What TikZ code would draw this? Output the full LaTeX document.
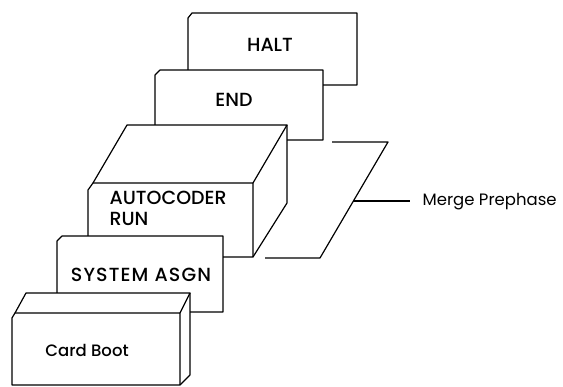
\documentclass[tikz,border=0pt]{standalone}
\usepackage{fontspec}
\setmainfont{Poppins}
\newfontfamily\medfont{Poppins Medium}
\newfontfamily\widefont{Poppins Medium}[LetterSpace=6]
\begin{document}
\begin{tikzpicture}[x=1pt,y=-1pt, line width=1.2pt, line join=round,
  lbl/.style={font=\medfont\fontsize{19}{21}\selectfont, inner sep=0pt},
  sml/.style={font=\fontsize{16.5}{18}\selectfont, inner sep=0pt}]
\useasboundingbox (0,0) rectangle (563,387);
% HALT card
\draw (188,70) -- (188,18) -- (192,13) -- (357,13) -- (357,85) -- (323,85);
% END card
\draw (155,125) -- (155,75) -- (160,70) -- (323,70) -- (323,140) -- (287,140);
% AUTOCODER RUN box
\draw (88,236) -- (88,190) -- (93,183) -- (253,183) -- (253,257) -- (223,257);
\draw (93,183) -- (127,125) -- (287,125) -- (253,183);
\draw (287,125) -- (287,203) -- (253,257);
% Merge Prephase sheet
\draw (332,142) -- (388,142) -- (320,258) -- (265,258);
% SYSTEM ASGN card
\draw (57,293) -- (57,241) -- (62,236) -- (223,236) -- (223,312) -- (190,312);
% Card Boot box
\draw (12,385) -- (12,318) -- (15,313) -- (180,313) -- (180,385) -- cycle;
\draw (15,313) -- (26,293) -- (190,293) -- (180,313);
\draw (190,293) -- (190,375) -- (180,385);
% texts
\node[lbl] (halt) at (270,45) {HALT};
\node[lbl] (end) at (234,100) {END};
\node[lbl, anchor=west] (auto) at (109,198) {AUTOCODER};
\node[lbl, anchor=west] (run) at (109,219) {RUN};
\node[lbl, font=\widefont\fontsize{19}{21}\selectfont] (sys) at (141,275) {SYSTEM ASGN};
\node[lbl, font=\medfont\fontsize{16.5}{18}\selectfont] (card) at (87,350) {Card Boot};
\node[sml, anchor=west] (mp) at (422,202) {Merge Prephase};
\coordinate (mpe) at (353,201);
\draw (mpe) -- ([xshift=-12pt]mp.west |- mpe);
\end{tikzpicture}
\end{document}
